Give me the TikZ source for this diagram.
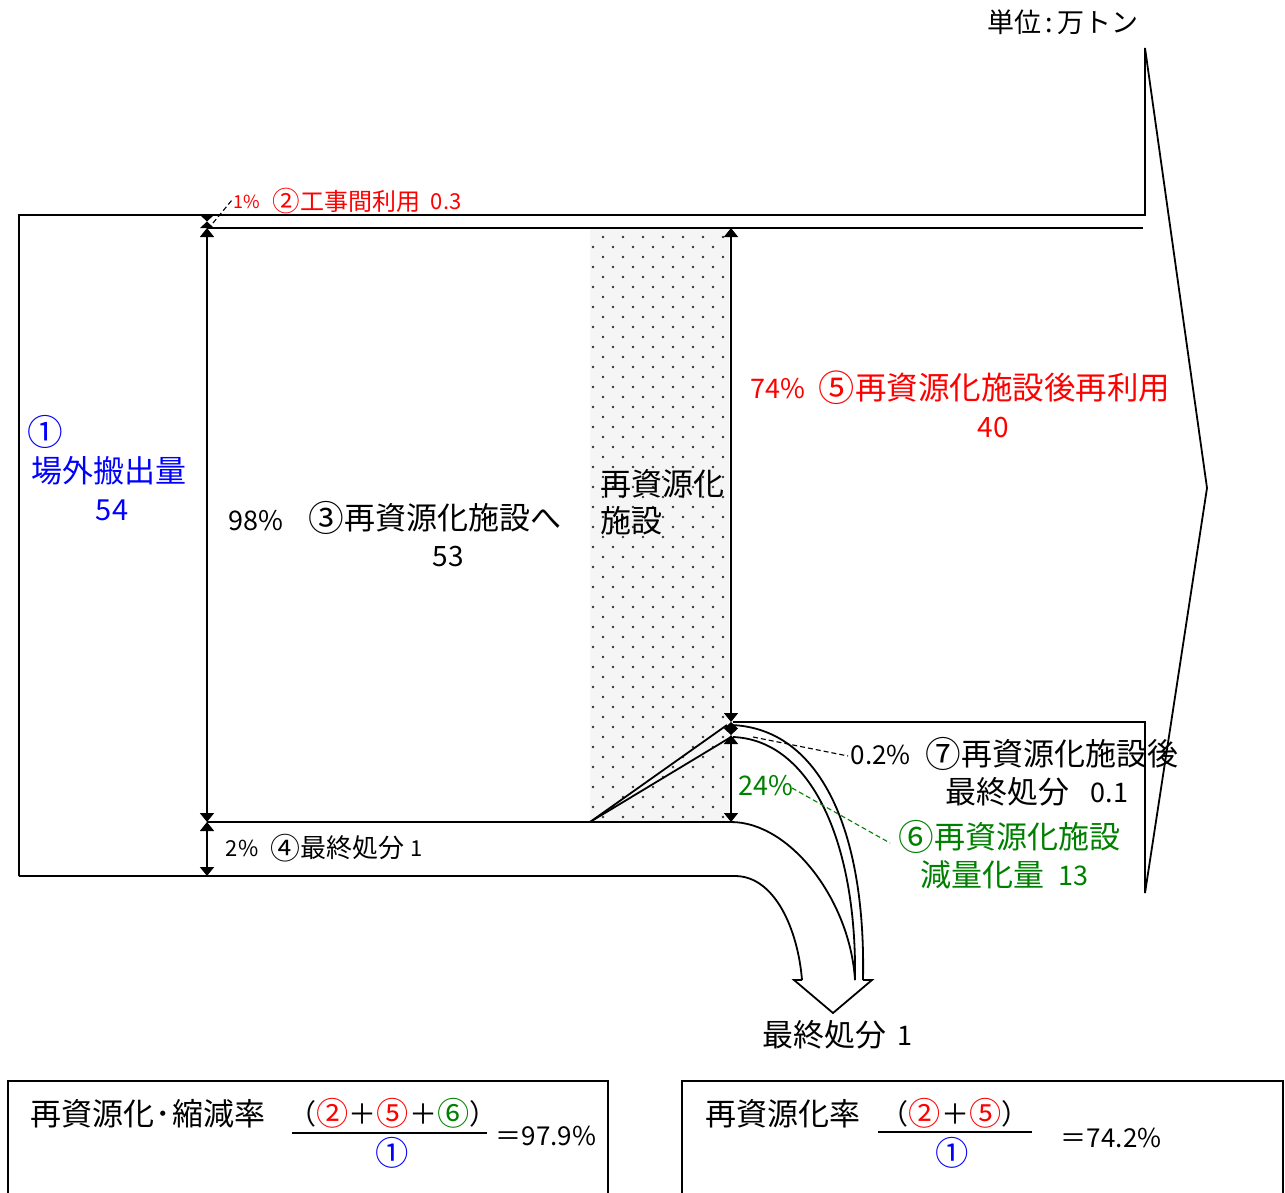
\documentclass[tikz,border=0pt]{standalone}
\usepackage{fontspec}
\usepackage{graphicx}
\setmainfont{Noto Sans CJK JP}
\usetikzlibrary{arrows.meta}
\definecolor{cred}{RGB}{255,0,0}
\definecolor{cblue}{RGB}{0,0,255}
\definecolor{cgreen}{RGB}{0,128,0}
\newcommand{\fsz}[1]{\fontsize{#1}{#1}\selectfont}
\newcommand{\cn}[1]{\raisebox{-0.07em}{\scalebox{1.15}{#1}}}
\begin{document}
\begin{tikzpicture}[x=1pt,y=-1pt, line width=1.8pt,
  txt/.style={inner sep=0pt, anchor=base west},
  txtc/.style={inner sep=0pt, anchor=base},
  dimarrow/.style={line width=1.6pt, {Triangle[width=14pt,length=9pt]}-{Triangle[width=14pt,length=9pt]}},
  leader/.style={line width=1.1pt, dash pattern=on 5pt off 3pt},
  boxline/.style={line width=2.8pt},
  fracline/.style={line width=1.3pt},
  ]
\useasboundingbox (0,0) rectangle (1285,1192);

% stippled facility
\fill[black!4] (590,229) rectangle (729,821);
\foreach \j in {0,...,58} {
  \pgfmathsetmacro\yy{237+10*\j}
  \pgfmathsetmacro\off{mod(\j,2)*10}
  \foreach \i in {0,...,6} {
    \fill[black!80] ({603-\off+20*\i},\yy) circle[radius=1.4pt];
  }
}

% coordinates
\coordinate (oTL) at (19,215);
\coordinate (oBL) at (19,876);
\coordinate (aTop) at (1145,48);
\coordinate (aTip) at (1207,488);
\coordinate (aBot) at (1145,893);

% main outlines
\draw (oBL) -- (oTL) -- (1145,215) -- (aTop) -- (aTip) -- (aBot) -- (1145,722) -- (733,722);
\draw (207,228) -- (1143,228);
\draw (207,822) -- (731,822);
\draw (oBL) -- (735,876) .. controls (775,876) and (798,930) .. (802,980);
\draw (731,822) .. controls (790,822) and (850,900) .. (855,980);
\draw (731,725) .. controls (820,728) and (866,830) .. (863,980);
\draw (733,737) .. controls (810,740) and (857,840) .. (855,980);
\draw (590,822) -- (727,725);
\draw (590,822) -- (731,737);
\draw[line join=miter] (802,980) -- (794,980) -- (833,1013) -- (872,980) -- (863,980);

% dimension arrows
\draw[dimarrow] (207,228) -- (207,822);
\draw[dimarrow] (207,822) -- (207,876);
\fill (200,215) -- (214,215) -- (207,221.5) -- cycle;
\fill (200,228) -- (214,228) -- (207,221.5) -- cycle;
\draw[dimarrow] (731,228) -- (731,722);
\draw[dimarrow] (731,735) -- (731,822);
\fill (731,722) -- (738,728.5) -- (731,735) -- (724,728.5) -- cycle;

% leaders
\draw[leader] (213,223) -- (232,200);
\draw[leader] (753,737) -- (848,756);
\draw[leader, cgreen] (792,788) -- (890,843);

% texts
\node[txt, font=\fsz{27}] (unit) at (987,32) {単位\hspace{4pt}:\hspace{4pt}万トン};

\node[txt, font=\fsz{18}, text=cred] (p2) at (233,208) {1\%};
\node[txt, font=\fsz{24}, text=cred] (t2) at (272,210) {\cn{②}工事間利用};
\node[txt, font=\fsz{22}, text=cred] (v2) at (430,209) {0.3};

\node[txtc, font=\fsz{31}, text=cblue] (n1) at (45,443.5) {\cn{①}};
\node[txtc, font=\fsz{31}, text=cblue] (t1) at (109,482.5) {場外搬出量};
\node[txtc, font=\fsz{29}, text=cblue] (v1) at (112,520.5) {54};

\node[txt, font=\fsz{27}] (p3) at (228,530) {98\%};
\node[txt, font=\fsz{31}] (t3) at (308,529.5) {\cn{③}再資源化施設へ};
\node[txtc, font=\fsz{28}] (v3) at (448,566) {53};

\node[txt, font=\fsz{31}] (f1) at (600,495.5) {再資源化};
\node[txt, font=\fsz{31}] (f2) at (600,532.5) {施設};

\node[txt, font=\fsz{27}, text=cred] (p5) at (750,398) {74\%};
\node[txt, font=\fsz{31.5}, text=cred] (t5) at (818,399.5) {\cn{⑤}再資源化施設後再利用};
\node[txtc, font=\fsz{28}, text=cred] (v5) at (993,437) {40};

\node[txt, font=\fsz{26}] (p7) at (850,764) {0.2\%};
\node[txt, font=\fsz{31}] (t7) at (925,765.5) {\cn{⑦}再資源化施設後};
\node[txt, font=\fsz{31}] (t7b) at (945,803.5) {最終処分};
\node[txt, font=\fsz{27}] (v7) at (1090,802) {0.1};

\node[txt, font=\fsz{27}, text=cgreen] (p6) at (738,795) {24\%};
\node[txt, font=\fsz{31}, text=cgreen] (t6) at (898,848.5) {\cn{⑥}再資源化施設};
\node[txt, font=\fsz{31}, text=cgreen] (t6b) at (920,886.5) {減量化量};
\node[txt, font=\fsz{27}, text=cgreen] (v6) at (1058,885) {13};

\node[txt, font=\fsz{22}] (p4) at (225,856) {2\%};
\node[txt, font=\fsz{26}] (t4) at (270,857.6) {\cn{④}最終処分};
\node[txt, font=\fsz{22}] (v4) at (410,856) {1};

\node[txt, font=\fsz{31}] (fin) at (762,1046.5) {最終処分};
\node[txt, font=\fsz{27}] (finv) at (897,1045) {1};

% formula boxes
\draw[boxline] (8,1195) -- (8,1081) -- (608,1081) -- (608,1195);
\draw[boxline] (682,1195) -- (682,1081) -- (1283,1081) -- (1283,1195);

\node[txt, font=\fsz{31}] (r1) at (30,1125) {再資源化\hspace{1pt}･\hspace{1pt}縮減率};
\node[txtc, font=\fsz{28}] (r1n) at (393,1124) {（\textcolor{cred}{\cn{②}}＋\textcolor{cred}{\cn{⑤}}＋\textcolor{cgreen}{\cn{⑥}}）};
\draw[fracline] (292,1133) -- (487,1133);
\node[txtc, font=\fsz{29}, text=cblue] (r1d) at (392,1163) {\cn{①}};
\node[txt, font=\fsz{26}] (r1v) at (495,1145) {＝97.9\%};

\node[txt, font=\fsz{31}] (r2) at (705,1125) {再資源化率};
\node[txtc, font=\fsz{28}] (r2n) at (955,1124) {（\textcolor{cred}{\cn{②}}＋\textcolor{cred}{\cn{⑤}}）};
\draw[fracline] (878,1132) -- (1032,1132);
\node[txtc, font=\fsz{29}, text=cblue] (r2d) at (952,1163) {\cn{①}};
\node[txt, font=\fsz{26}] (r2v) at (1060,1147) {＝74.2\%};
\end{tikzpicture}
\end{document}
